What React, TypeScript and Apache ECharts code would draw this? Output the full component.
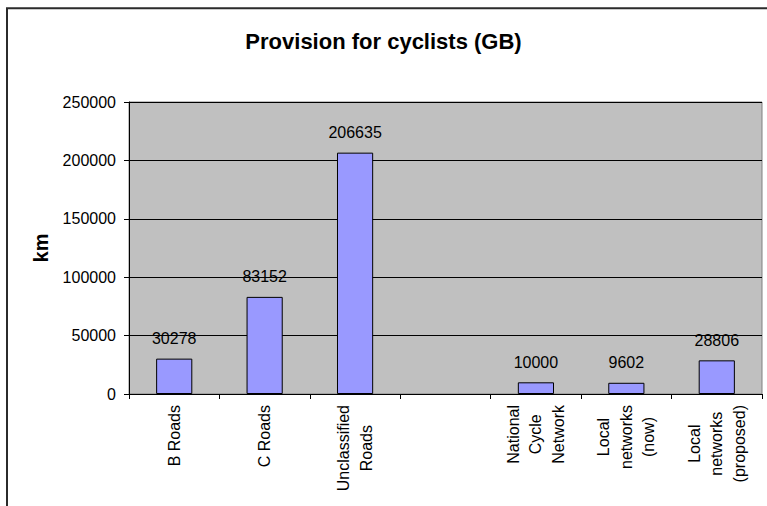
import React, { useEffect, useRef } from "react";
import * as echarts from "echarts";

const categories: string[] = [
  "B Roads",
  "C Roads",
  "Unclassified\nRoads",
  "",
  "National\nCycle\nNetwork",
  "Local\nnetworks\n(now)",
  "Local\nnetworks\n(proposed)",
];
const lengthsKm: (number | null)[] = [30278, 83152, 206635, null, 10000, 9602, 28806];
const yTicks = { min: 0, max: 250000, interval: 50000 };
const titleText = "Provision for cyclists (GB)";
const yAxisName = "km";

const FONT = "'Liberation Sans', Arial, sans-serif";

export default function App() {
  const ref = useRef<HTMLDivElement>(null);
  useEffect(() => {
    if (!ref.current) return;
    const chart = echarts.init(ref.current, undefined, { renderer: "svg" });
    chart.setOption({
      animation: false,
      backgroundColor: "#ffffff",
      textStyle: { fontFamily: FONT },
      title: {
        text: titleText,
        left: "center",
        top: 25,
        textStyle: { fontFamily: FONT, fontSize: 22, fontWeight: "bold", color: "#000" },
      },
      graphic: [
        {
          type: "rect",
          silent: true,
          shape: { x: 7, y: 8.3, width: 800, height: 560 },
          style: { fill: "none", stroke: "#2b2b2b", lineWidth: 2 },
        },
      ],
      grid: {
        left: 129,
        right: 5,
        top: 102,
        bottom: 112,
        show: true,
        backgroundColor: "#c0c0c0",
        borderColor: "#808080",
        borderWidth: 1,
      },
      xAxis: {
        type: "category",
        data: categories,
        axisLine: { lineStyle: { color: "#000", width: 1 } },
        axisTick: { show: true, length: 5, lineStyle: { color: "#000" } },
        axisLabel: {
          rotate: 90,
          margin: 11,
          interval: 0,
          color: "#000",
          fontFamily: FONT,
          fontSize: 16,
          lineHeight: 22.5,
          formatter: (v: string) =>
            v
              .split("\n")
              .map((l) => `{c|${l}}`)
              .join("\n"),
          rich: {
            c: { align: "center", fontSize: 16, lineHeight: 22.5, color: "#000", fontFamily: FONT },
          },
        },
      },
      yAxis: {
        type: "value",
        min: yTicks.min,
        max: yTicks.max,
        interval: yTicks.interval,
        name: yAxisName,
        nameLocation: "middle",
        nameRotate: 90,
        nameGap: 78,
        nameTextStyle: { fontFamily: FONT, fontSize: 20, fontWeight: "bold", color: "#000" },
        axisLine: { show: true, lineStyle: { color: "#000", width: 1 } },
        axisTick: { show: true, length: 5, lineStyle: { color: "#000" } },
        axisLabel: {
          margin: 13,
          color: "#000",
          fontFamily: FONT,
          fontSize: 16,
          formatter: (v: number) => String(v),
        },
        splitLine: { show: true, lineStyle: { color: "#000", width: 1 } },
      },
      series: [
        {
          type: "bar",
          data: lengthsKm,
          barWidth: "40%",
          itemStyle: { color: "#9999ff", borderColor: "#000", borderWidth: 1 },
          label: {
            show: true,
            position: "top",
            distance: 12,
            color: "#000",
            fontFamily: FONT,
            fontSize: 16,
          },
        },
      ],
    });
    return () => chart.dispose();
  }, []);
  return (
    <div
      ref={ref}
      style={{ position: "fixed", left: 0, top: 0, width: 767, height: 506 }}
    />
  );
}
